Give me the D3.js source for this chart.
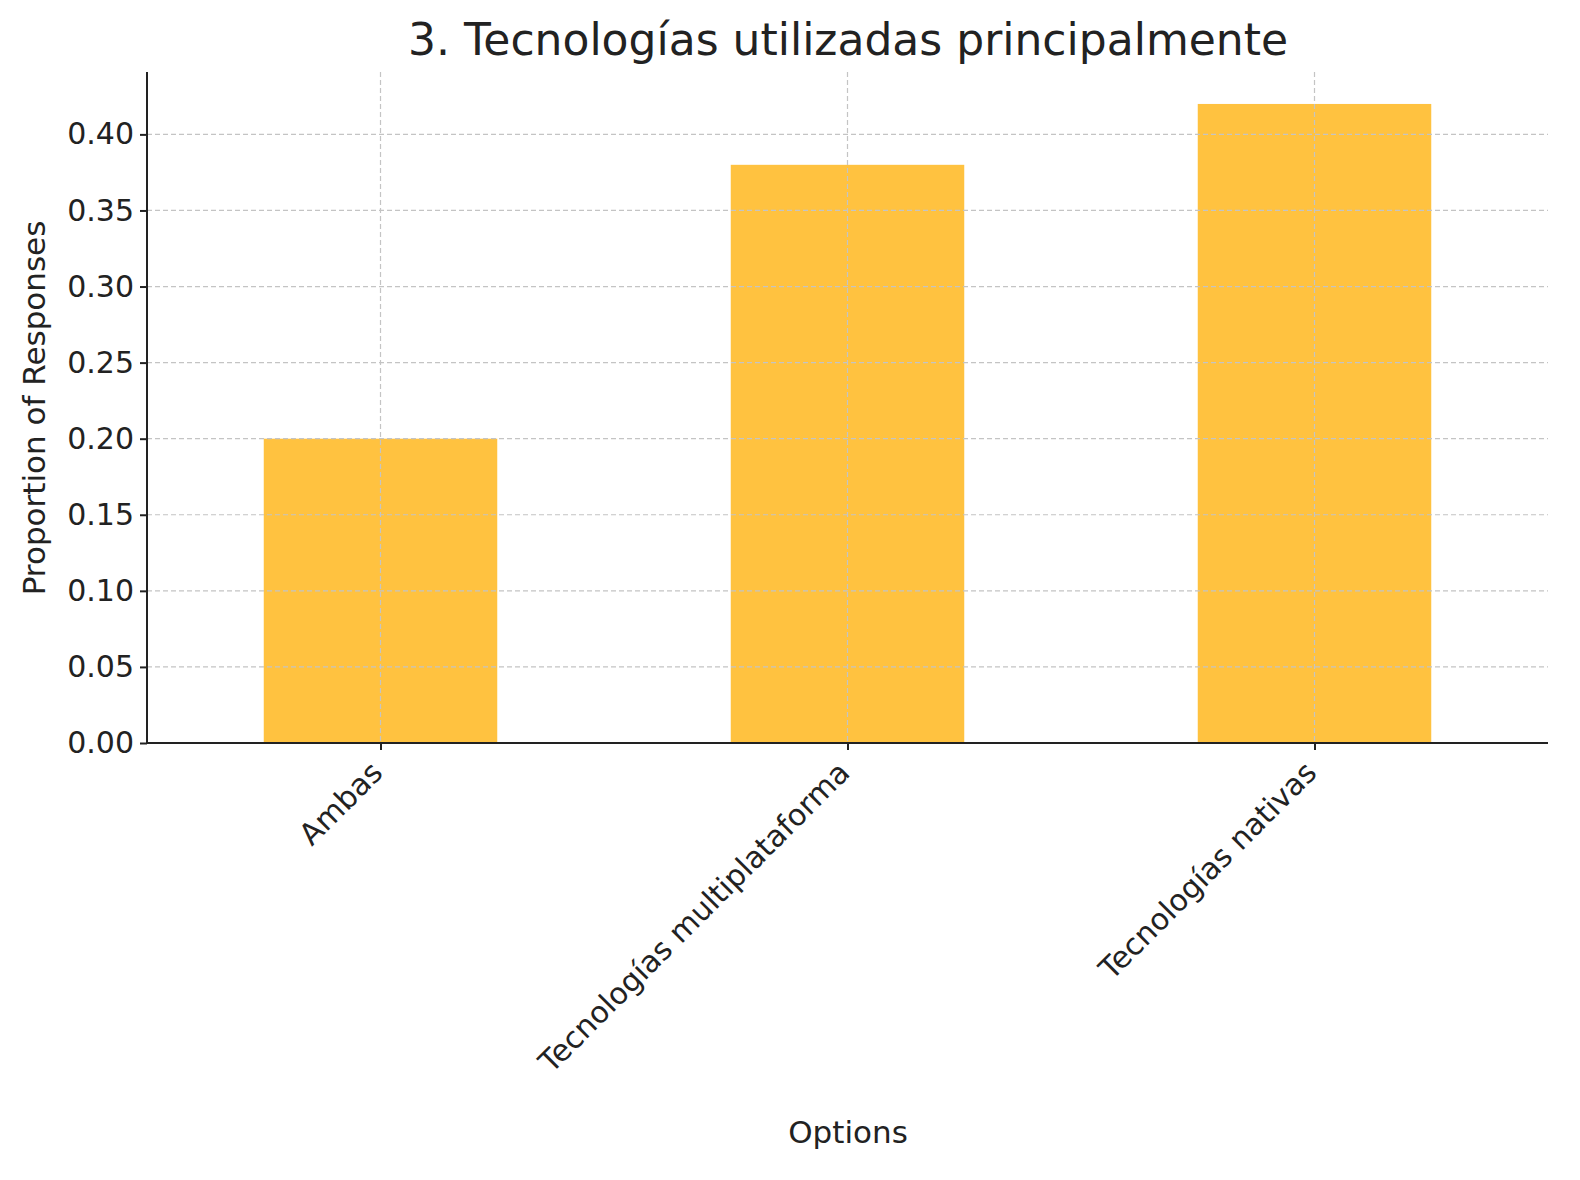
<!DOCTYPE html>
<html><head><meta charset="utf-8">
<script src="https://cdn.jsdelivr.net/npm/d3@7"></script>
<style>body{margin:0;background:#fff}text{font-family:"DejaVu Sans",sans-serif;fill:#222}</style>
</head><body><svg id="chart" width="1580" height="1180"></svg>
<script>
// chart data
var categories = ["Ambas", "Tecnologías multiplataforma", "Tecnologías nativas"];
var values = [0.20, 0.38, 0.42];
var yTicks = [0, 0.05, 0.10, 0.15, 0.20, 0.25, 0.30, 0.35, 0.40];

var svg = d3.select('#chart');
var plotLeft = 147, plotRight = 1548, plotTop = 72, plotBottom = 743;

var x = d3.scaleLinear().domain([-0.5, categories.length - 0.5]).range([plotLeft, plotRight]);
var y = d3.scaleLinear().domain([0, 0.441]).range([plotBottom, plotTop]);

// bars
svg.append('g').selectAll('rect').data(values).enter().append('rect')
    .attr('x', function (d, i) { return x(i - 0.25); })
    .attr('width', x(0.25) - x(-0.25))
    .attr('y', function (d) { return y(d); })
    .attr('height', function (d) { return plotBottom - y(d); })
    .attr('fill', '#ffc240');

// grid (drawn over bars)
var grid = svg.append('g').attr('stroke', '#c4c4c4').attr('stroke-width', 1.2).attr('stroke-dasharray', '5,3');
yTicks.forEach(function (t) {
    grid.append('line').attr('x1', plotLeft).attr('x2', plotRight).attr('y1', y(t)).attr('y2', y(t));
});
categories.forEach(function (c, i) {
    grid.append('line').attr('x1', x(i)).attr('x2', x(i)).attr('y1', plotTop).attr('y2', plotBottom);
});

// axes
var yAxis = svg.append('g').attr('transform', 'translate(' + plotLeft + ',0)')
    .call(d3.axisLeft(y).tickValues(yTicks).tickFormat(d3.format('.2f')).tickSize(7).tickPadding(6));
var xAxis = svg.append('g').attr('transform', 'translate(0,' + plotBottom + ')')
    .call(d3.axisBottom(x).tickValues(d3.range(categories.length)).tickFormat(function (i) { return categories[i]; }).tickSize(7));
[yAxis, xAxis].forEach(function (a) {
    a.selectAll('path,line').attr('stroke', '#222').attr('stroke-width', 2);
    a.selectAll('text').style('font-size', '30px').attr('fill', '#222');
});
yAxis.select('.domain').attr('d', 'M0,' + plotTop + 'V' + plotBottom);
xAxis.select('.domain').attr('d', 'M' + plotLeft + ',0H' + plotRight);
xAxis.selectAll('text').attr('text-anchor', 'end').attr('dy', '0.35em')
    .attr('transform', 'translate(-4,24) rotate(-45)').attr('y', 0).attr('x', 0);

// labels
svg.append('text').attr('x', 848).attr('y', 55).attr('text-anchor', 'middle').style('font-size', '44px').text('3. Tecnologías utilizadas principalmente');
svg.append('text').attr('x', 848).attr('y', 1143).attr('text-anchor', 'middle').style('font-size', '31px').text('Options');
svg.append('text').attr('transform', 'translate(45,408) rotate(-90)').attr('text-anchor', 'middle').style('font-size', '31px').text('Proportion of Responses');
</script></body></html>
